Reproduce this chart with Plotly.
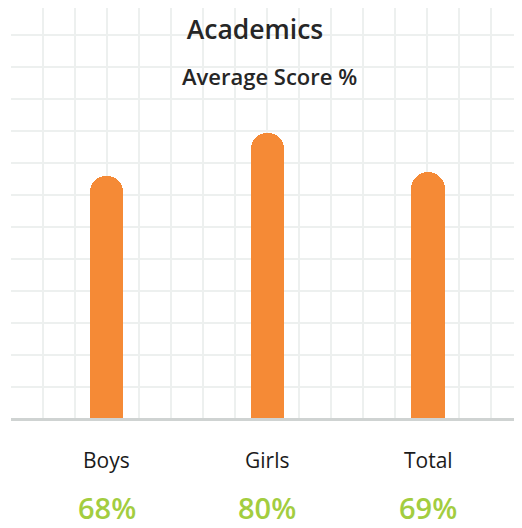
import plotly.graph_objects as go

categories = ["Boys", "Girls", "Total"]
scores = [68, 80, 69]
score_labels = ["68%", "80%", "69%"]
title_text = "Academics"
subtitle_text = "Average Score %"

# page has an 8px body margin, so the figure is drawn 8px smaller and offset
W, H = 514, 520
FONT = "Open Sans"
ORANGE = "#f58a36"
GREEN = "#a3cd3f"
GRID = "#edf0ef"
L, T, B = 3, 0, 110
PW = W - L

fig = go.Figure()
fig.add_trace(go.Bar(
    x=categories, y=scores,
    marker=dict(color=ORANGE, cornerradius="50%", line=dict(width=0)),
    width=0.206, hoverinfo="skip", showlegend=False,
))
# empty trace hosting the overlay grid axes
fig.add_trace(go.Scatter(x=[], y=[], xaxis="x2", yaxis="y2", showlegend=False))

for c, s in zip(categories, score_labels):
    fig.add_annotation(x=c, y=0, xref="x", yref="y", text=c, showarrow=False,
                       yanchor="middle", yshift=-42,
                       font=dict(family=FONT, size=21, color="#1b1b1b"))
    fig.add_annotation(x=c, y=0, xref="x", yref="y", text=s, showarrow=False,
                       yanchor="middle", yshift=-89, borderpad=0,
                       font=dict(family=FONT, size=29, color=GREEN, weight=600))

fig.add_annotation(x=(261 - L) / PW, y=1 - 68 / (H - B), xref="paper", yref="paper",
                   yanchor="middle", xanchor="center", showarrow=False,
                   text=subtitle_text,
                   font=dict(family=FONT, size=22, color="#262626", weight=600))

fig.update_layout(
    width=W, height=H,
    margin=dict(l=L, r=0, t=T, b=B, pad=0),
    paper_bgcolor="white", plot_bgcolor="white",
    title=dict(text=title_text, x=247 / W, xanchor="center", y=1 - 22 / H,
               yanchor="middle", yref="container",
               font=dict(family=FONT, size=26.5, color="#262626", weight=600)),
    xaxis=dict(type="category", range=[-0.596, 2.585], showgrid=False,
               showticklabels=False, ticks="", zeroline=False,
               showline=True, linecolor="#cfd3d2", linewidth=3,
               fixedrange=True),
    yaxis=dict(range=[0, 115.17], showticklabels=False, ticks="",
               showgrid=True, gridcolor=GRID, gridwidth=2,
               tick0=8.79, dtick=8.99, zeroline=False,
               showline=False, fixedrange=True),
    xaxis2=dict(overlaying="x", range=[11.5, 522], tick0=43, dtick=32,
                showgrid=True, gridcolor=GRID, gridwidth=2, showticklabels=False,
                ticks="", zeroline=False, showline=False, layer="below traces"),
    yaxis2=dict(overlaying="y", range=[0, 1], showgrid=False, showticklabels=False,
                ticks="", zeroline=False, showline=False),
    bargap=0,
)
fig.write_html("out.html")
